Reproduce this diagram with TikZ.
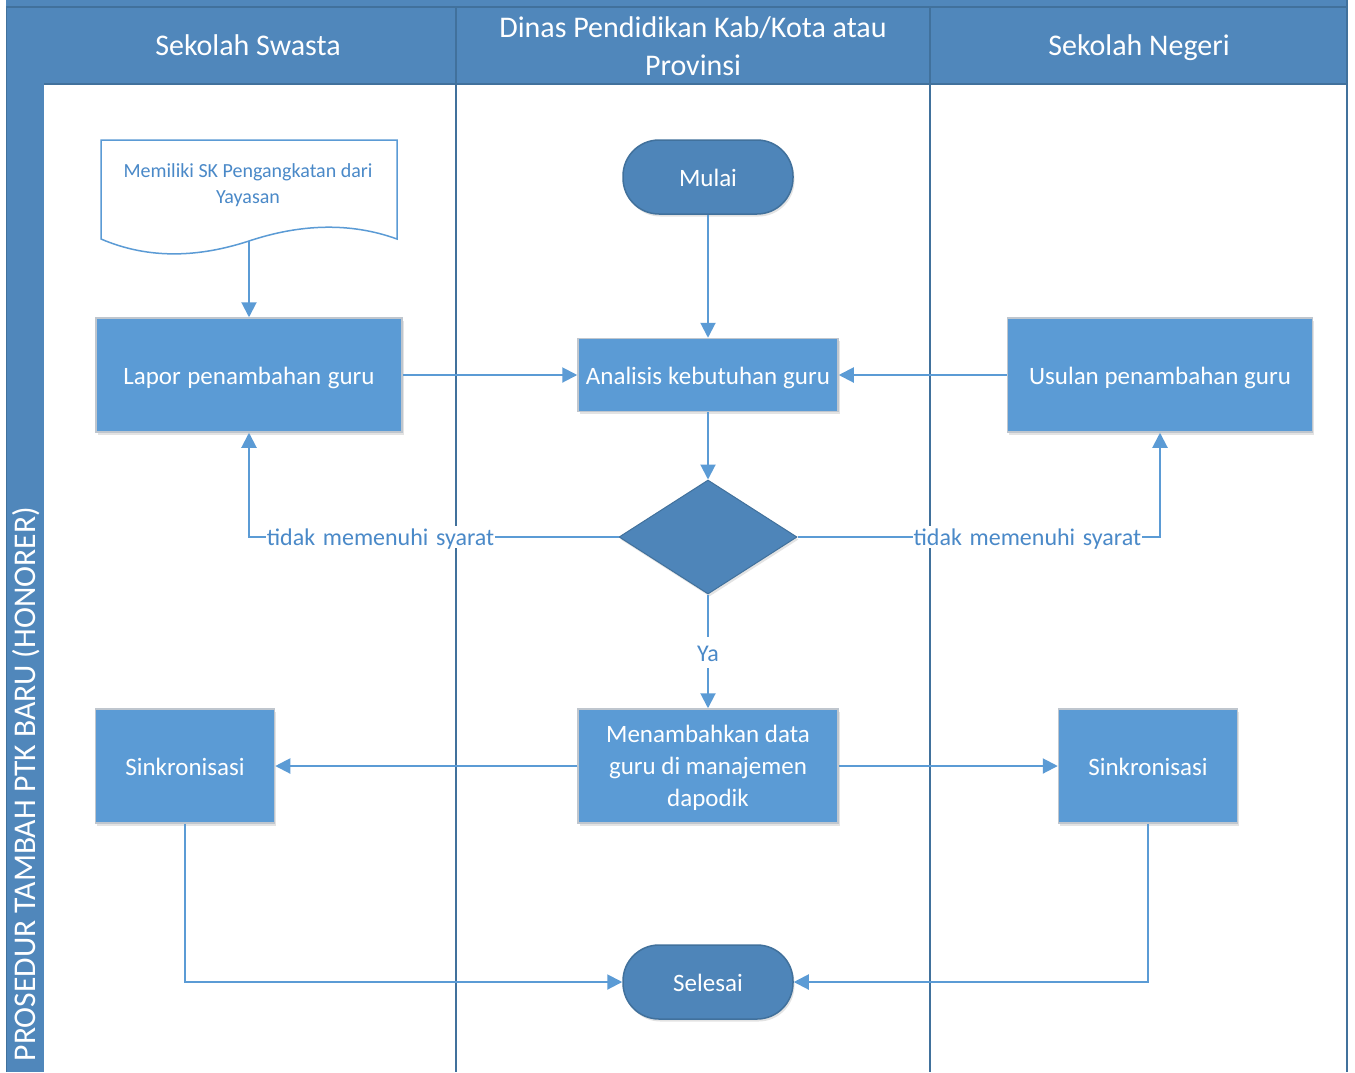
\documentclass[tikz,border=0pt]{standalone}
\usepackage{fontspec}
\setmainfont{Carlito}
\usetikzlibrary{shapes.geometric,arrows.meta,shadows}

\definecolor{headfill}{HTML}{5087BB}
\definecolor{headline}{HTML}{41719C}
\definecolor{procfill}{HTML}{5B9BD5}
\definecolor{procline}{HTML}{BFC6CE}
\definecolor{termfill}{HTML}{4E85B9}
\definecolor{termline}{HTML}{41719C}
\definecolor{linkcol}{HTML}{5B9BD5}
\definecolor{labelcol}{HTML}{4A89C8}

\tikzset{
  softshadow/.style={drop shadow={shadow xshift=1.5pt, shadow yshift=-2.5pt, opacity=0.18, fill=black!60}},
  oneline/.style={text height=#1, text depth=0pt},
  oneline/.default=18pt,
  proc/.style={rectangle, fill=procfill, draw=procline, line width=1.5pt, text=white,
    font=\fontsize{25}{32}\selectfont, align=center, inner sep=0pt, softshadow},
  term/.style={rectangle, rounded corners=36pt, fill=termfill, draw=termline, line width=1.5pt,
    text=white, font=\fontsize{25}{32}\selectfont, minimum width=170pt, minimum height=74pt,
    inner sep=0pt, oneline, softshadow},
  decide/.style={diamond, aspect=1.56, fill=termfill, draw=termline, line width=1pt,
    minimum width=178pt, minimum height=114pt, inner sep=0pt, softshadow},
  conn/.style={draw=linkcol, line width=2pt, -{Triangle[length=15pt,width=15pt]}},
  lbl/.style={fill=white, text=labelcol, font=\fontsize{24}{30}\selectfont, inner xsep=1pt,
    inner ysep=2pt, oneline=17.3pt},
  headtxt/.style={text=white, font=\fontsize{30}{38.5}\selectfont, align=center},
  lanerule/.style={draw=headline, line width=2pt}
}

\begin{document}
\begin{tikzpicture}[x=1pt, y=-1pt]
\useasboundingbox (0,0) rectangle (1355,1072);
\fill[white] (0,0) rectangle (1355,1072);

% pool frame: top strip, left title strip and lane headers
\fill[headfill] (6,0) rectangle (1347,84);
\fill[headfill] (6,0) rectangle (44,1072);
\draw[headline, line width=1.5pt] (6,7) -- (1347,7);
\draw[headline, line width=1.5pt] (44,84) -- (1347,84);
\draw[headline, line width=1pt] (6,7) -- (6,1072);
\draw[lanerule] (456,7) -- (456,1072);
\draw[lanerule] (930,7) -- (930,1072);
\draw[lanerule] (1347,0) -- (1347,1072);

\node[headtxt, oneline=21.6pt] (h1) at (248,45) {Sekolah Swasta};
\node[headtxt] (h2) at (693,46) {Dinas Pendidikan Kab/Kota atau\\Provinsi};
\node[headtxt, oneline=21.6pt] (h3) at (1139,45) {Sekolah Negeri};
\node[text=white, font=\fontsize{31.6}{36}\selectfont, rotate=90, anchor=east, inner sep=0pt]
  (pooltitle) at (26,507) {PROSEDUR TAMBAH PTK BARU (HONORER)};

% document shape
\draw[draw=linkcol, line width=1.5pt, fill=white]
  (101,140) -- (397,140) -- (397,239)
  .. controls (350,222) and (300,224) .. (249,241)
  .. controls (200,257) and (150,260) .. (101,239) -- cycle;
\node[text=labelcol, font=\fontsize{20}{26}\selectfont, align=center] (doc) at (248,185)
  {Memiliki SK Pengangkatan dari\\Yayasan};
\coordinate (docb) at (249,241);

% flow nodes
\node[term] (mulai) at (708,177) {Mulai};
\node[proc, oneline, minimum width=306pt, minimum height=114pt] (lapor) at (249,375)
  {Lapor\hspace{0.26em}penambahan\hspace{0.26em}guru};
\node[proc, oneline, minimum width=260pt, minimum height=73pt] (analisis) at (708,375)
  {Analisis\hspace{0.24em}kebutuhan\hspace{0.24em}guru};
\node[proc, oneline, minimum width=305pt, minimum height=114pt] (usulan) at (1160,375)
  {Usulan penambahan guru};
\node[decide] (cek) at (708,537) {};
\node[proc, text depth=0pt, minimum width=260pt, minimum height=114pt] (tambah) at (708,766)
  {Menambahkan data\\guru di manajemen\\dapodik};
\node[proc, oneline, minimum width=179pt, minimum height=114pt] (sinkL) at (185,766) {Sinkronisasi};
\node[proc, oneline, minimum width=179pt, minimum height=114pt] (sinkR) at (1148,766) {Sinkronisasi};
\node[term] (selesai) at (708,982) {Selesai};

% connectors
\draw[conn] (docb) -- (lapor.north);
\draw[conn] (mulai.south) -- (analisis.north);
\draw[conn] (lapor.east) -- (analisis.west);
\draw[conn] (usulan.west) -- (analisis.east);
\draw[conn] (analisis.south) -- (cek.north);
\draw[conn] (cek.west) -| node[lbl, pos=0.322]
  {tidak\hspace{0.32em}memenuhi\hspace{0.32em}syarat} (lapor.south);
\draw[conn] (cek.east) -| node[lbl, pos=0.317]
  {tidak\hspace{0.32em}memenuhi\hspace{0.32em}syarat} (usulan.south);
\draw[conn] (cek.south) -- node[lbl, inner ysep=7pt, pos=0.51] {Ya} (tambah.north);
\draw[conn] (tambah.west) -- (sinkL.east);
\draw[conn] (tambah.east) -- (sinkR.west);
\draw[conn] (sinkL.south) |- (selesai.west);
\draw[conn] (sinkR.south) |- (selesai.east);
\end{tikzpicture}
\end{document}
